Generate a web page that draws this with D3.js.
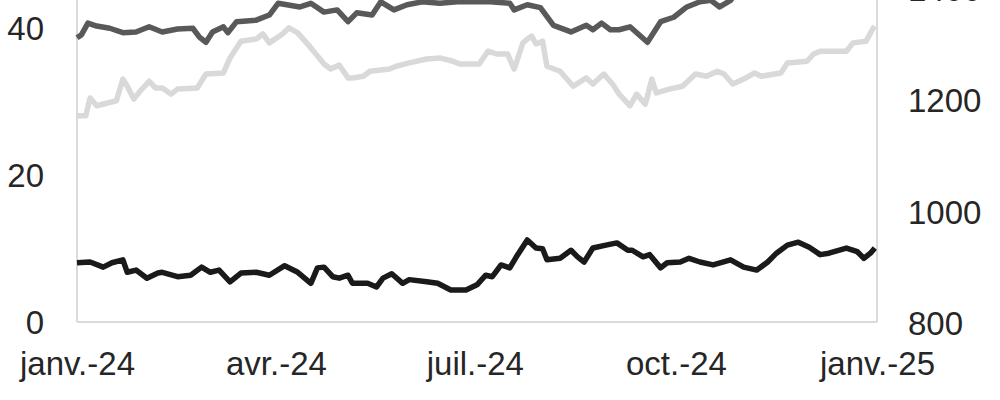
<!DOCTYPE html>
<html>
<head>
<meta charset="utf-8">
<script src="https://cdn.jsdelivr.net/npm/d3@7"></script>
<style>
  html, body { margin: 0; padding: 0; background: #fff; }
  svg { display: block; font-family: "Liberation Sans", Arial, sans-serif; }
</style>
</head>
<body>
<svg id="chart" width="1000" height="400"></svg>
<script>
// ---- Data ----
const xTickDates = ["2024-01-01", "2024-04-01", "2024-07-01", "2024-10-01", "2025-01-01"];
const xTickLabels = ["janv.-24", "avr.-24", "juil.-24", "oct.-24", "janv.-25"];
const leftTicks = [0, 20, 40];
const rightTicks = [800, 1000, 1200, 1400];

// Dark grey series (left axis)
const darkDates = ["01-01","01-03","01-06","01-10","01-16","01-22","01-28","02-03","02-09","02-16","02-23","02-26","02-29","03-03","03-08","03-10","03-14","03-23","03-29","04-02","04-06","04-12","04-17","04-23","04-29","05-04","05-08","05-15","05-19","05-25","05-31","06-07","06-15","06-23","06-30","07-08","07-17","07-19","07-25","07-31","08-06","08-14","08-21","08-24","08-28","09-01","09-05","09-10","09-18","09-24","09-30","10-06","10-12","10-17","10-21","10-26","10-30","11-08","11-27","12-15","12-31"];
const darkValues = [38.8,39.2,40.8,40.4,40.1,39.5,39.6,40.3,39.6,40.0,40.1,38.9,38.2,39.6,40.3,39.5,41.0,41.2,41.9,43.5,43.3,43.0,43.5,42.3,42.6,41.0,42.2,41.9,43.7,42.6,43.3,43.7,43.5,43.7,43.7,43.7,43.5,42.6,43.3,42.9,40.5,39.6,40.5,39.9,40.8,39.9,39.9,40.3,38.2,41.0,41.6,43.0,43.7,43.9,43.0,43.9,45.5,47.0,48.0,49.0,50.0];

// Light grey series (right axis)
const lightDates = ["01-01","01-05","01-07","01-10","01-15","01-19","01-22","01-24","01-27","01-30","02-03","02-06","02-09","02-13","02-16","02-25","02-29","03-08","03-11","03-16","03-23","03-26","03-29","04-04","04-07","04-11","04-17","04-23","04-26","04-30","05-04","05-06","05-11","05-14","05-23","05-26","06-01","06-09","06-15","06-21","06-24","07-03","07-07","07-11","07-16","07-19","07-23","07-25","07-27","07-29","08-01","08-03","08-09","08-15","08-21","08-24","08-29","09-02","09-05","09-10","09-13","09-17","09-20","09-22","09-28","10-04","10-10","10-15","10-20","10-23","10-27","11-01","11-06","11-09","11-18","11-21","11-30","12-03","12-06","12-18","12-21","12-27","12-30","12-31"];
const lightValues = [1174,1174,1206,1192,1197,1201,1240,1227,1204,1219,1236,1224,1224,1213,1222,1224,1249,1251,1278,1308,1312,1321,1305,1321,1332,1323,1296,1267,1258,1265,1242,1242,1245,1254,1258,1263,1269,1276,1278,1272,1267,1267,1290,1285,1285,1258,1305,1312,1317,1303,1308,1263,1254,1227,1242,1231,1249,1231,1213,1192,1213,1195,1240,1215,1222,1227,1249,1245,1254,1249,1231,1240,1251,1245,1251,1269,1272,1285,1290,1290,1305,1308,1330,1335];

// Black series (left axis)
const blackDates = ["01-01","01-07","01-13","01-17","01-22","01-24","01-28","02-02","02-07","02-09","02-16","02-22","02-27","03-02","03-06","03-11","03-16","03-23","03-29","04-05","04-11","04-17","04-20","04-23","04-27","04-30","05-04","05-06","05-13","05-17","05-20","05-24","05-29","06-01","06-09","06-14","06-20","06-27","07-02","07-06","07-09","07-13","07-17","07-20","07-25","07-29","08-01","08-03","08-09","08-14","08-17","08-20","08-24","08-30","09-04","09-09","09-11","09-16","09-19","09-24","09-27","10-03","10-07","10-12","10-18","10-26","11-01","11-07","11-12","11-16","11-21","11-26","12-01","12-06","12-10","12-18","12-23","12-26","12-29","12-31"];
const blackValues = [8.2,8.3,7.6,8.2,8.6,6.9,7.2,6.1,6.8,6.9,6.3,6.5,7.6,6.9,7.2,5.6,6.8,6.9,6.5,7.8,6.9,5.4,7.5,7.6,6.3,6.1,6.5,5.4,5.4,4.9,6.1,6.7,5.4,5.9,5.6,5.4,4.5,4.5,5.2,6.5,6.3,7.9,7.5,9.0,11.3,10.2,10.1,8.6,8.8,9.9,9.0,8.3,10.2,10.6,10.9,9.9,9.9,9.0,9.3,7.5,8.2,8.3,8.8,8.3,7.9,8.6,7.6,7.2,8.3,9.5,10.6,11.0,10.3,9.3,9.5,10.2,9.7,8.8,9.5,10.2];

// ---- Drawing ----
const svg = d3.select("#chart");
const parse = d3.timeParse("%Y-%m-%d");
const plotLeft = 77, plotRight = 877, plotBottom = 322;

const x = d3.scaleTime()
  .domain([parse("2024-01-01"), parse("2025-01-01")])
  .range([plotLeft, plotRight]);
const yL = d3.scaleLinear().domain([0, 60]).range([323, 323 - 60 * 7.35]);
const yR = d3.scaleLinear().domain([800, 1600]).range([324, 324 - 800 * 0.5567]);

const toSeries = (dates, vals) => dates.map((d, i) => ({ date: parse("2024-" + d), v: vals[i] }));

// frame lines
const frameColor = "#cfcfcf";
svg.append("line").attr("x1", plotLeft).attr("x2", plotLeft).attr("y1", -200).attr("y2", plotBottom)
  .attr("stroke", frameColor).attr("stroke-width", 1.5);
svg.append("line").attr("x1", plotRight).attr("x2", plotRight).attr("y1", -200).attr("y2", plotBottom)
  .attr("stroke", frameColor).attr("stroke-width", 1.5);
svg.append("line").attr("x1", plotLeft).attr("x2", plotRight).attr("y1", plotBottom).attr("y2", plotBottom)
  .attr("stroke", frameColor).attr("stroke-width", 1.5);

// axes (text only)
const fontSize = 33;
const textColor = "#262626";
const leftAxis = d3.axisLeft(yL).tickValues(leftTicks).tickSize(0).tickPadding(33).tickFormat(d3.format("d"));
const gL = svg.append("g").attr("transform", `translate(${plotLeft},0)`).call(leftAxis);
const rightAxis = d3.axisRight(yR).tickValues(rightTicks).tickSize(0).tickPadding(31).tickFormat(d3.format("d"));
const gR = svg.append("g").attr("transform", `translate(${plotRight},0)`).call(rightAxis);
const bottomAxis = d3.axisBottom(x).tickValues(xTickDates.map(parse)).tickSize(0).tickPadding(30)
  .tickFormat((d, i) => xTickLabels[i]);
const gB = svg.append("g").attr("transform", `translate(0,${plotBottom})`).call(bottomAxis);
[gL, gR, gB].forEach(g => {
  g.select(".domain").remove();
  g.selectAll("text").attr("font-size", fontSize).attr("fill", textColor)
    .attr("font-family", "'Liberation Sans', Arial, sans-serif");
});

// lines
const lineL = d3.line().x(d => x(d.date)).y(d => yL(d.v));
const lineR = d3.line().x(d => x(d.date)).y(d => yR(d.v));

svg.append("path").datum(toSeries(lightDates, lightValues))
  .attr("d", lineR).attr("fill", "none").attr("stroke", "#d9d9d9")
  .attr("stroke-width", 5.5).attr("stroke-linejoin", "round");
svg.append("path").datum(toSeries(darkDates, darkValues))
  .attr("d", lineL).attr("fill", "none").attr("stroke", "#595959")
  .attr("stroke-width", 5.5).attr("stroke-linejoin", "round");
svg.append("path").datum(toSeries(blackDates, blackValues))
  .attr("d", lineL).attr("fill", "none").attr("stroke", "#1a1a1a")
  .attr("stroke-width", 5.5).attr("stroke-linejoin", "round");
</script>
</body>
</html>
